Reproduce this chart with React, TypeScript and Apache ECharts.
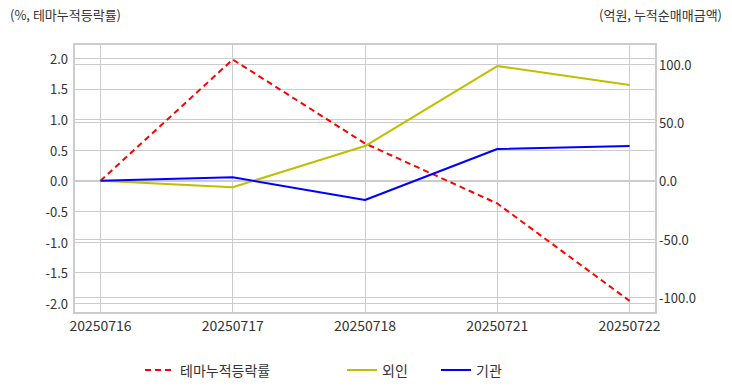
import React, { useEffect, useRef } from "react";
import * as echarts from "echarts";

const categories = ["20250716", "20250717", "20250718", "20250721", "20250722"];
const themeReturn = [0.0, 1.98, 0.61, -0.37, -1.96];
const foreign = [0.0, -5.6, 29.7, 98.3, 82.0];
const institution = [0.0, 2.9, -16.5, 27.2, 29.7];
const leftTicks = [-2.0, -1.5, -1.0, -0.5, 0.0, 0.5, 1.0, 1.5, 2.0];
const rightTicks = [-100, -50, 0, 50, 100];
const seriesNames = ["테마누적등락률", "외인", "기관"];

const FONT = "'Noto Sans CJK KR', 'Noto Sans', sans-serif";

export default function App() {
  const ref = useRef<HTMLDivElement>(null);
  useEffect(() => {
    if (!ref.current) return;
    const chart = echarts.init(ref.current, undefined, { renderer: "svg" });
    const toPts = (arr: number[]) => arr.map((v, i) => [i, v]);
    const gridColor = "#cccccc";
    const legendText = { fontSize: 14, color: "#333333", fontFamily: FONT };
    chart.setOption({
      animation: false,
      backgroundColor: "#ffffff",
      textStyle: { fontFamily: FONT },
      grid: {
        left: 74,
        right: 76,
        top: 44,
        bottom: 79,
        show: true,
        borderColor: gridColor,
        borderWidth: 2,
        containLabel: false,
      },
      xAxis: {
        type: "value",
        min: -0.2,
        max: 4.2,
        axisLine: { show: false },
        axisTick: { show: false, customValues: [0, 1, 2, 3, 4] },
        axisLabel: {
          customValues: [0, 1, 2, 3, 4],
          formatter: (v: number) => categories[Math.round(v)] ?? "",
          color: "#333333",
          fontSize: 14,
          fontFamily: FONT,
          margin: 5,
        },
        splitLine: { show: true, lineStyle: { color: gridColor, width: 1 } },
      },
      yAxis: [
        {
          type: "value",
          min: -2.158,
          max: 2.233,
          position: "left",
          axisLine: { show: false },
          axisTick: { show: false, customValues: leftTicks },
          axisLabel: {
            customValues: leftTicks,
            formatter: (v: number) => v.toFixed(1),
            color: "#333333",
            fontSize: 13,
            fontFamily: FONT,
            margin: 6,
          },
          splitLine: { show: true, lineStyle: { color: gridColor, width: 1 } },
        },
        {
          type: "value",
          min: -113.4,
          max: 117.2,
          position: "right",
          axisLine: { show: false },
          axisTick: { show: false, customValues: rightTicks },
          axisLabel: {
            customValues: rightTicks,
            formatter: (v: number) => v.toFixed(1),
            color: "#333333",
            fontSize: 13,
            fontFamily: FONT,
            margin: 3,
          },
          splitLine: { show: true, lineStyle: { color: gridColor, width: 1 } },
        },
      ],
      legend: [
        {
          data: [seriesNames[0]],
          left: 139,
          top: 358,
          itemWidth: 30,
          itemHeight: 2,
          textStyle: legendText,
        },
        {
          data: [seriesNames[1]],
          left: 341,
          top: 358,
          itemWidth: 30,
          itemHeight: 2,
          textStyle: legendText,
        },
        {
          data: [seriesNames[2]],
          left: 435,
          top: 358,
          itemWidth: 30,
          itemHeight: 2,
          textStyle: legendText,
        },
      ],
      graphic: [
        {
          type: "text",
          left: 10,
          top: 8,
          style: { text: "(%, 테마누적등락률)", fontSize: 13, fill: "#333333", fontFamily: FONT },
        },
        {
          type: "text",
          right: 10,
          top: 8,
          style: { text: "(억원, 누적순매매금액)", fontSize: 13, fill: "#333333", fontFamily: FONT },
        },
      ],
      series: [
        {
          name: seriesNames[0],
          type: "line",
          yAxisIndex: 0,
          data: toPts(themeReturn),
          symbol: "none",
          color: "#ff0000",
          lineStyle: { color: "#ff0000", width: 2, type: [6, 4] },
        },
        {
          name: seriesNames[1],
          type: "line",
          yAxisIndex: 1,
          data: toPts(foreign),
          symbol: "none",
          color: "#bfbf00",
          lineStyle: { color: "#bfbf00", width: 2 },
        },
        {
          name: seriesNames[2],
          type: "line",
          yAxisIndex: 1,
          data: toPts(institution),
          symbol: "none",
          color: "#0000ff",
          lineStyle: { color: "#0000ff", width: 2 },
        },
      ],
    });
    return () => chart.dispose();
  }, []);
  return <div ref={ref} style={{ width: 732, height: 392, position: "absolute", left: 0, top: 0 }} />;
}
